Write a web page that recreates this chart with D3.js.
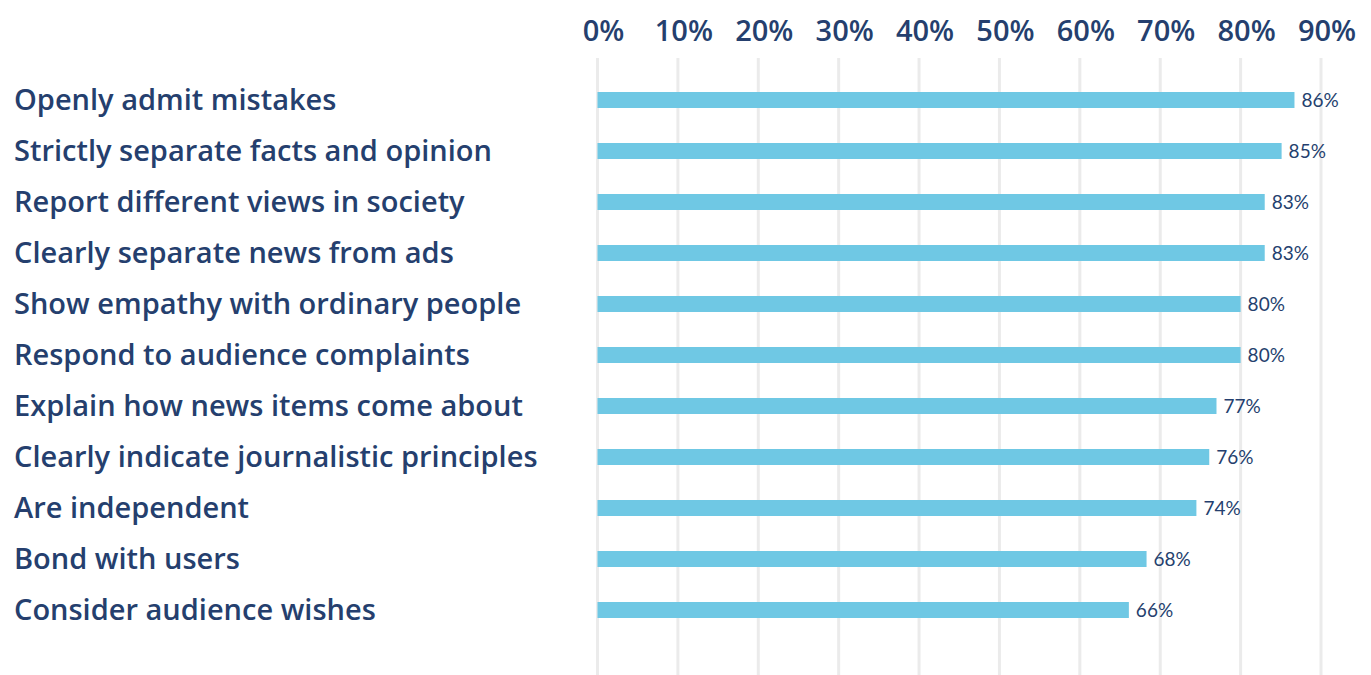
<!DOCTYPE html>
<html>
<head>
<meta charset="utf-8">
<script src="https://cdn.jsdelivr.net/npm/d3@7"></script>
<style>
  body { margin: 0; background: #fff; }
  svg { display: block; }
</style>
</head>
<body>
<div id="chart"></div>
<script>
const categories = [
    'Openly admit mistakes',
    'Strictly separate facts and opinion',
    'Report different views in society',
    'Clearly separate news from ads',
    'Show empathy with ordinary people',
    'Respond to audience complaints',
    'Explain how news items come about',
    'Clearly indicate journalistic principles',
    'Are independent',
    'Bond with users',
    'Consider audience wishes'
];
const values = [86.7, 85.1, 83.0, 83.0, 80.0, 80.0, 77.0, 76.1, 74.5, 68.3, 66.1];
const valueLabels = ['86%', '85%', '83%', '83%', '80%', '80%', '77%', '76%', '74%', '68%', '66%'];
const ticks = [0, 10, 20, 30, 40, 50, 60, 70, 80, 90];

const width = 1371;
const height = 675;
const navy = '#253f6e';

const svg = d3.select('#chart')
    .append('svg')
    .attr('width', width)
    .attr('height', height);

const x = d3.scaleLinear()
    .domain([0, 90])
    .range([597.5, 1321]);

const y = d3.scalePoint()
    .domain(categories)
    .range([100, 610]);

const barH = 16;

// gridlines
svg.selectAll('.grid')
    .data(ticks)
    .enter()
    .append('line')
    .attr('x1', d => x(d))
    .attr('x2', d => x(d))
    .attr('y1', 58)
    .attr('y2', height)
    .attr('stroke', '#ebebeb')
    .attr('stroke-width', 3);

// top tick labels
svg.selectAll('.tick-label')
    .data(ticks)
    .enter()
    .append('text')
    .attr('x', d => x(d) + 6)
    .attr('y', 41)
    .attr('text-anchor', 'middle')
    .style('font-family', '"Open Sans", sans-serif')
    .style('font-size', '29px')
    .style('font-weight', '600')
    .style('fill', navy)
    .text(d => d + '%');

// bars
svg.selectAll('.bar')
    .data(values)
    .enter()
    .append('rect')
    .attr('x', x(0))
    .attr('y', (d, i) => y(categories[i]) - barH / 2)
    .attr('width', d => x(d) - x(0))
    .attr('height', barH)
    .attr('fill', '#6fc8e4');

// value labels
svg.selectAll('.value-label')
    .data(values)
    .enter()
    .append('text')
    .attr('x', d => x(d) + 7)
    .attr('y', (d, i) => y(categories[i]))
    .attr('dy', '.35em')
    .style('font-family', 'Lato, sans-serif')
    .style('font-size', '19px')
    .style('fill', navy)
    .text((d, i) => valueLabels[i]);

// category labels
svg.selectAll('.cat-label')
    .data(categories)
    .enter()
    .append('text')
    .attr('x', 14)
    .attr('y', d => y(d))
    .attr('dy', '.35em')
    .style('font-family', '"Open Sans", sans-serif')
    .style('font-size', '29px')
    .style('font-weight', '600')
    .style('fill', navy)
    .text(d => d);
</script>
</body>
</html>
